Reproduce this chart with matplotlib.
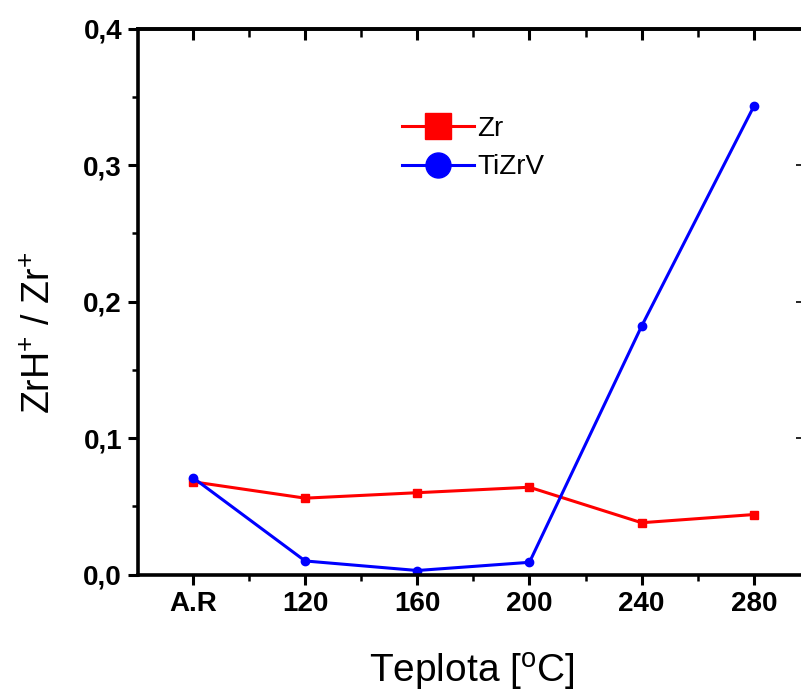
import matplotlib
matplotlib.use("Agg")
import matplotlib.pyplot as plt
from matplotlib.ticker import MultipleLocator

plt.rcParams['font.family'] = ['Liberation Sans', 'DejaVu Sans']
plt.rcParams['mathtext.fontset'] = 'custom'
plt.rcParams['mathtext.rm'] = 'Liberation Sans'
plt.rcParams['mathtext.it'] = 'Liberation Sans'

categories = ['A.R', '120', '160', '200', '240', '280']
zr_values = [0.068, 0.056, 0.060, 0.064, 0.038, 0.044]
tizrv_values = [0.071, 0.010, 0.003, 0.009, 0.182, 0.343]
y_ticks = [0.0, 0.1, 0.2, 0.3, 0.4]
y_tick_labels = ['0,0', '0,1', '0,2', '0,3', '0,4']

fig = plt.figure(figsize=(8.01, 6.94), dpi=100)
ax = fig.add_axes([138 / 801, 119.4 / 694, 664 / 801, 546 / 694])

x = list(range(len(categories)))
ax.plot(x, zr_values, color='#ff0000', lw=2.2, marker='s', ms=6.2, label='Zr')
ax.plot(x, tizrv_values, color='#0000ff', lw=2.2, marker='o', ms=6.0, label='TiZrV')

ax.set_xlim(-0.49, 5.43)
ax.set_ylim(0.0, 0.4)
ax.set_xticks(x)
ax.set_xticklabels(categories)
ax.xaxis.set_minor_locator(MultipleLocator(0.5))
ax.set_yticks(y_ticks)
ax.set_yticklabels(y_tick_labels)
ax.yaxis.set_minor_locator(MultipleLocator(0.05))

for s in ax.spines.values():
    s.set_linewidth(2.6)
ax.spines['right'].set_visible(False)

ax.tick_params(which='major', direction='out', length=7.5, width=2.2,
               labelsize=20, pad=4)
ax.tick_params(which='minor', direction='out', length=4.5, width=1.8)
for lab in ax.get_xticklabels() + ax.get_yticklabels():
    lab.set_fontweight('bold')

top = ax.secondary_xaxis('top')
top.set_xticks(x)
top.xaxis.set_minor_locator(MultipleLocator(0.5))
top.tick_params(which='major', direction='in', length=8, width=2.2, labeltop=False)
top.tick_params(which='minor', direction='in', length=6, width=1.8)
top.spines['top'].set_linewidth(2.6)

right = ax.secondary_yaxis('right')
right.set_yticks(y_ticks)
right.tick_params(which='major', direction='in', length=4, width=1.2, labelright=False)
right.spines['right'].set_visible(False)

ax.set_xlabel(r'Teplota [$^{\mathrm{o}}$C]', fontsize=28)
ax.xaxis.set_label_coords(0.5 + 2 / 664, -76 / 546)
ax.set_ylabel(r'ZrH$^{+}$ / Zr$^{+}$', fontsize=27)
ax.yaxis.set_label_coords(-80 / 664, 242 / 546)

leg = ax.legend(loc='upper left', bbox_to_anchor=(402 / 801, 1 - 116 / 694),
                bbox_transform=fig.transFigure, frameon=False, fontsize=20,
                markerscale=3.0, handlelength=2.6, handletextpad=0.1,
                labelspacing=0.45, borderpad=0, borderaxespad=0)

fig.savefig('out.png', dpi=100)
